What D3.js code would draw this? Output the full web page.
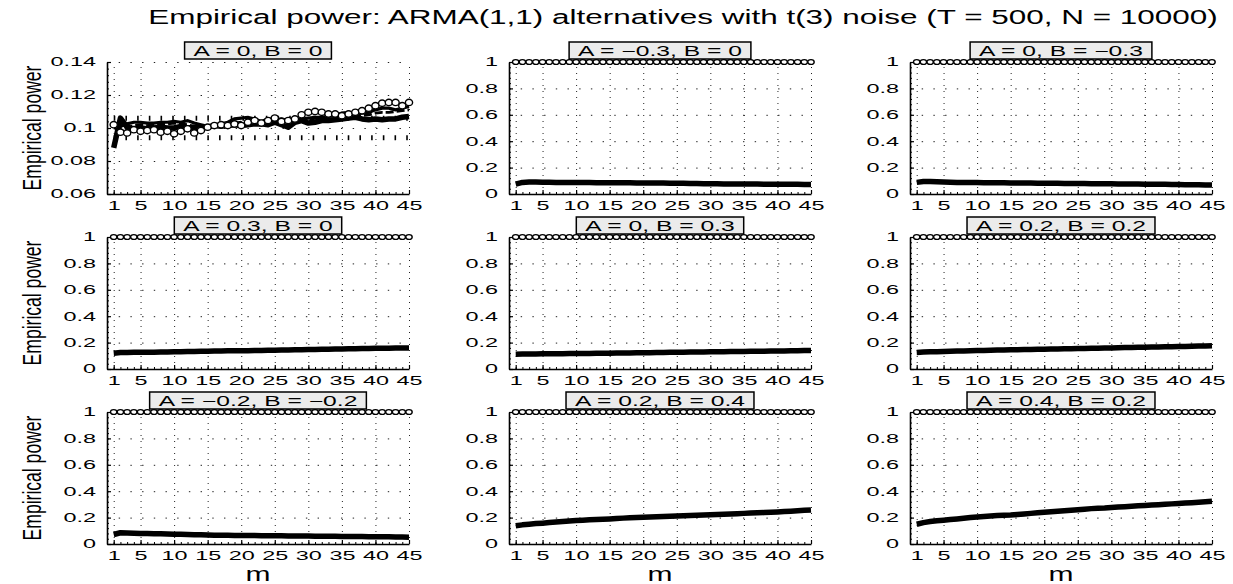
<!DOCTYPE html>
<html><head><meta charset="utf-8">
<script src="https://cdn.jsdelivr.net/npm/d3@7"></script>
<style>
body{margin:0;background:#fff}
text{font-family:"Liberation Sans",Arial,sans-serif;fill:#000}
</style></head>
<body><svg id="c" width="1233" height="584"></svg>
<script>
// ---------------- data ----------------
const titleText = "Empirical power: ARMA(1,1) alternatives with t(3) noise (T = 500, N = 10000)";
const panelLabels = ["A = 0, B = 0","A = \u22120.3, B = 0","A = 0, B = \u22120.3",
  "A = 0.3, B = 0","A = 0, B = 0.3","A = 0.2, B = 0.2",
  "A = \u22120.2, B = \u22120.2","A = 0.2, B = 0.4","A = 0.4, B = 0.2"];
const mTicks = [1,5,10,15,20,25,30,35,40,45];
const yTicksNull = [0.06,0.08,0.1,0.12,0.14];
const yTicksAlt = [0,0.2,0.4,0.6,0.8,1];
const bandLevels = [0.0941,0.1059];

// panel 1 (size): several statistics
const p1Circles = [0.102,0.0975,0.097,0.099,0.098,0.0985,0.099,0.0975,0.098,0.0965,0.098,0.0995,0.097,0.0985,0.1005,0.1015,0.102,0.1015,0.1025,0.1015,0.1035,0.1045,0.103,0.1045,0.106,0.104,0.1045,0.1055,0.108,0.1095,0.110,0.1095,0.1085,0.1085,0.1075,0.1085,0.1095,0.1105,0.112,0.1135,0.115,0.1155,0.1155,0.1135,0.1155];
const p1Thick = [0.088,0.106,0.1005,0.0995,0.1,0.0995,0.1,0.1005,0.1,0.1,0.101,0.1,0.1005,0.1,0.1005,0.1015,0.101,0.1015,0.102,0.1015,0.102,0.1025,0.1025,0.102,0.1035,0.102,0.1005,0.1035,0.1045,0.103,0.1035,0.1045,0.1045,0.105,0.1055,0.106,0.1065,0.1055,0.105,0.1055,0.105,0.1055,0.1055,0.1065,0.107];
const p1Mid = [0.1,0.1,0.1,0.1015,0.102,0.1015,0.102,0.1025,0.1025,0.103,0.1025,0.102,0.101,0.1005,0.101,0.1015,0.102,0.1025,0.103,0.1035,0.104,0.103,0.1025,0.103,0.104,0.1035,0.103,0.104,0.1045,0.105,0.1045,0.105,0.1055,0.1055,0.106,0.107,0.107,0.1075,0.108,0.109,0.1095,0.1095,0.11,0.1105,0.111];
const p1Upper = [0.102,0.101,0.1025,0.1035,0.1035,0.103,0.103,0.1035,0.1035,0.104,0.1035,0.1045,0.103,0.102,0.101,0.102,0.1025,0.1035,0.1055,0.106,0.1065,0.1055,0.104,0.1055,0.105,0.1055,0.1045,0.104,0.1055,0.106,0.1065,0.1065,0.107,0.1075,0.109,0.1095,0.1085,0.109,0.1095,0.111,0.112,0.112,0.111,0.112,0.113];

// panels 2-9: circles series (power ~ 1) and thick line series
const altCircles = [1,1,1,1,1,1,1,1,1,1,1,1,1,1,1,1,1,1,1,1,1,1,1,1,1,1,1,1,1,1,1,1,1,1,1,1,1,1,1,1,1,1,1,1,1];
const p2Line = [0.075,0.088,0.09,0.09,0.089,0.089,0.088,0.088,0.088,0.087,0.087,0.087,0.086,0.086,0.086,0.085,0.085,0.085,0.084,0.084,0.084,0.083,0.083,0.082,0.082,0.081,0.080,0.079,0.078,0.077,0.077,0.076,0.076,0.076,0.075,0.075,0.075,0.074,0.074,0.074,0.073,0.073,0.073,0.072,0.072];
const p3Line = [0.088,0.095,0.094,0.092,0.09,0.089,0.088,0.088,0.087,0.087,0.086,0.086,0.085,0.085,0.084,0.084,0.083,0.083,0.082,0.082,0.081,0.081,0.080,0.080,0.079,0.079,0.078,0.078,0.077,0.077,0.076,0.076,0.075,0.075,0.074,0.074,0.073,0.073,0.072,0.072,0.071,0.070,0.070,0.069,0.068];
const p4Line = [0.12,0.125,0.125,0.126,0.126,0.127,0.127,0.128,0.129,0.13,0.131,0.132,0.133,0.134,0.135,0.136,0.137,0.138,0.138,0.139,0.139,0.14,0.141,0.142,0.142,0.143,0.144,0.145,0.146,0.147,0.148,0.149,0.15,0.151,0.152,0.153,0.154,0.155,0.156,0.157,0.158,0.158,0.159,0.16,0.16];
const p5Line = [0.112,0.113,0.114,0.114,0.115,0.115,0.116,0.116,0.117,0.117,0.118,0.118,0.119,0.12,0.12,0.121,0.122,0.122,0.123,0.124,0.124,0.125,0.125,0.126,0.127,0.127,0.128,0.128,0.129,0.13,0.13,0.131,0.132,0.132,0.133,0.134,0.134,0.135,0.136,0.136,0.137,0.138,0.139,0.14,0.141];
const p6Line = [0.125,0.128,0.13,0.131,0.133,0.134,0.136,0.137,0.139,0.14,0.141,0.142,0.143,0.144,0.145,0.146,0.147,0.148,0.149,0.15,0.151,0.152,0.153,0.154,0.155,0.156,0.157,0.158,0.159,0.16,0.161,0.162,0.163,0.164,0.165,0.166,0.167,0.168,0.169,0.17,0.171,0.172,0.174,0.175,0.177];
const p7Line = [0.072,0.085,0.083,0.082,0.08,0.079,0.078,0.077,0.076,0.074,0.073,0.072,0.071,0.07,0.068,0.067,0.066,0.066,0.065,0.065,0.064,0.064,0.063,0.063,0.062,0.062,0.061,0.061,0.06,0.06,0.059,0.059,0.058,0.058,0.057,0.057,0.056,0.056,0.055,0.055,0.054,0.054,0.053,0.053,0.052];
const p8Line = [0.138,0.145,0.15,0.155,0.158,0.162,0.166,0.17,0.174,0.178,0.18,0.183,0.186,0.188,0.19,0.193,0.196,0.198,0.2,0.202,0.204,0.206,0.208,0.21,0.212,0.214,0.216,0.218,0.22,0.222,0.224,0.226,0.228,0.23,0.232,0.234,0.236,0.238,0.24,0.243,0.246,0.249,0.252,0.255,0.258];
const p9Line = [0.15,0.162,0.17,0.176,0.18,0.185,0.19,0.195,0.2,0.205,0.208,0.212,0.215,0.218,0.22,0.224,0.228,0.232,0.236,0.24,0.244,0.248,0.252,0.256,0.26,0.264,0.268,0.27,0.272,0.276,0.28,0.283,0.286,0.289,0.292,0.295,0.298,0.301,0.304,0.307,0.31,0.313,0.316,0.32,0.324];
const altLines = [p2Line,p3Line,p4Line,p5Line,p6Line,p7Line,p8Line,p9Line];

// ---------------- layout ----------------
const svg = d3.select("#c");
const colLeft = [107,509,910], rowTop = [62,237,412];
const pw = 302, ph = 132;
const TICK_K = 1.95;
const fmt = d => String(+d.toFixed(2));

svg.append("text").attr("id","title").attr("text-anchor","middle")
  .attr("font-size",20).text(titleText)
  .each(function(){
    const w = this.getComputedTextLength();
    const k = 1070 / w;
    d3.select(this).attr("transform",`translate(683,24) scale(${k},1)`);
  });

panelLabels.forEach((lab, i) => {
  const col = i % 3, row = Math.floor(i / 3);
  const isNull = i === 0;
  const x = d3.scaleLinear().domain([0,45]).range([0,pw]);
  const y = d3.scaleLinear().domain(isNull ? [0.06,0.14] : [0,1]).range([ph,0]);
  const yT = isNull ? yTicksNull : yTicksAlt;
  const yMinor = d3.range(yT[0], yT[yT.length-1] + 1e-9, (yT[1]-yT[0])/5);
  const g = svg.append("g").attr("transform",`translate(${colLeft[col]},${rowTop[row]})`);

  // grid
  const gx = g.append("g").attr("transform",`translate(0,${ph})`)
    .call(d3.axisBottom(x).tickValues(mTicks).tickSize(-ph).tickFormat(""));
  gx.select(".domain").remove();
  gx.selectAll("line").attr("stroke","#222").attr("stroke-dasharray","1,5").attr("stroke-width",1);
  const gy = g.append("g")
    .call(d3.axisLeft(y).tickValues(yT).tickSize(-x(45)).tickFormat(""));
  gy.select(".domain").remove();
  gy.selectAll("line").attr("stroke","#222").attr("stroke-dasharray","1.4,10.3").attr("stroke-width",1);

  const line = d3.line().x((d,j) => x(j+1)).y(d => y(d));

  if (isNull) {
    bandLevels.forEach(b => {
      g.append("path").datum([b,b]).attr("fill","none").attr("stroke","#000")
        .attr("stroke-width",5).attr("stroke-dasharray","1.6,10.1")
        .attr("d", d3.line().x((d,j) => x(j === 0 ? 1 : 45)).y(d => y(d)));
    });
    g.append("path").datum(p1Upper).attr("fill","none").attr("stroke","#000").attr("stroke-width",3.2).attr("d",line);
    g.append("path").datum(p1Mid).attr("fill","none").attr("stroke","#000").attr("stroke-width",2.8).attr("stroke-dasharray","8,3").attr("d",line);
    g.append("path").datum(p1Thick).attr("fill","none").attr("stroke","#000").attr("stroke-width",5.5).attr("stroke-linejoin","round").attr("d",line);
  } else {
    g.append("path").datum(altLines[i-1]).attr("fill","none").attr("stroke","#000").attr("stroke-width",5.5).attr("stroke-linejoin","round").attr("d",line);
  }
  const circ = isNull ? p1Circles : altCircles;
  g.append("path").datum(circ).attr("fill","none").attr("stroke","#000").attr("stroke-width",1.4).attr("d",line);
  g.append("g").selectAll("ellipse").data(circ).join("ellipse")
    .attr("cx",(d,j)=>x(j+1)).attr("cy",d=>y(d))
    .attr("rx",isNull?3.6:3.2).attr("ry",isNull?3.2:2.4)
    .attr("fill","#fff").attr("stroke","#000").attr("stroke-width",1.4);

  // minor ticks
  const mx = g.append("g").attr("transform",`translate(0,${ph})`)
    .call(d3.axisBottom(x).tickValues(d3.range(1,46)).tickSize(-2).tickSizeOuter(0).tickFormat(""));
  mx.select(".domain").remove();
  const my = g.append("g")
    .call(d3.axisLeft(y).tickValues(yMinor).tickSize(-2).tickSizeOuter(0).tickFormat(""));
  my.select(".domain").remove();

  // major axes
  const ax = g.append("g").attr("transform",`translate(0,${ph})`)
    .call(d3.axisBottom(x).tickValues(mTicks).tickSize(-4).tickSizeOuter(0).tickPadding(7));
  const ay = g.append("g")
    .call(d3.axisLeft(y).tickValues(yT).tickFormat(fmt).tickSize(-4).tickSizeOuter(0).tickPadding(11));
  [ax, ay].forEach(a => {
    a.select(".domain").attr("stroke-width",1.6);
    a.selectAll(".tick line").attr("stroke-width",1.2);
    a.selectAll(".tick text").attr("font-size",12).attr("font-family","Liberation Sans, Arial, sans-serif").attr("fill","#000");
  });
  ax.selectAll(".tick text").attr("transform",`scale(${TICK_K},1)`);
  ay.selectAll(".tick text").attr("x", -11 / TICK_K).attr("transform",`scale(${TICK_K},1)`);

  // strip label
  const lg = g.append("g");
  const lt = lg.append("text").attr("font-size",14.5).attr("text-anchor","middle").text(lab);
  const nat = lt.node().getComputedTextLength();
  const k = 1.7, tw = nat * k, pad = 9;
  lt.attr("transform",`translate(${pw/2},-6) scale(${k},1)`);
  lg.insert("rect","text").attr("x",pw/2 - tw/2 - pad).attr("y",-20).attr("width",tw + 2*pad).attr("height",17)
    .attr("fill","#ebebeb").attr("stroke","#000").attr("stroke-width",1.5);

  // y label
  if (col === 0) {
    const yl = g.append("text").attr("font-size",26).attr("text-anchor","middle").text("Empirical power");
    const w = yl.node().getComputedTextLength();
    yl.attr("transform",`translate(${41-colLeft[0]},${ph/2}) rotate(-90) scale(${125/w},1)`);
  }
  if (row === 2) {
    g.append("text").attr("font-size",20).attr("text-anchor","middle")
      .attr("transform",`translate(${pw/2},${581-rowTop[2]}) scale(1.5,1)`).text("m");
  }
});
</script></body></html>
